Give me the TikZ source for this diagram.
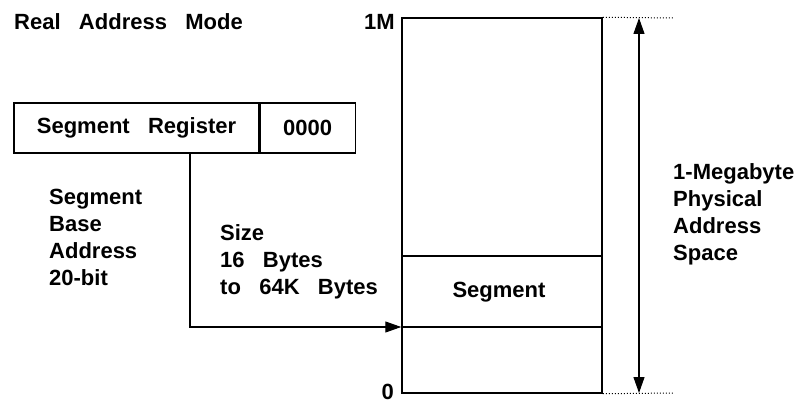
\documentclass[tikz,border=0pt]{standalone}
\usepackage{fontspec}
\setmainfont{Liberation Sans}[WordSpace=3]
\usetikzlibrary{positioning,arrows.meta,calc}
\tikzset{
  lbl/.style={font=\fontsize{22}{27}\selectfont\bfseries,inner sep=0pt,align=left},
  reg/.style={draw,line width=1.2pt,minimum height=50pt,inner sep=0pt,
    font=\fontsize{22}{26}\selectfont\bfseries},
  mem/.style={draw,line width=1.5pt,minimum width=200pt,minimum height=375pt,inner sep=0pt},
  thin/.style={line width=1.1pt},
  fl/.style={-{Triangle[length=16pt,width=11pt]},line width=1.1pt},
  dim/.style={{Triangle[length=16pt,width=11pt]}-{Triangle[length=16pt,width=11pt]},line width=1.1pt},
  dot/.style={dotted,line width=1pt},
}
\begin{document}
\begin{tikzpicture}[x=1pt,y=-1pt]
\useasboundingbox (0,0) rectangle (805,403);
\node[lbl,anchor=west] (ttl) at (14,22) {Real Address Mode};
\node[reg,minimum width=245pt] (sr) at (136.5,128) {Segment Register};
\node[reg,minimum width=95pt,right=0pt of sr] (off) {0000};
\node[mem] (m) at (502,205.5) {};
\node[lbl,anchor=east] (hi) at (395,22) {1M};
\node[lbl,anchor=east] (lo) at (394,392) {0};
\node[lbl] (sg) at (499,292) {Segment};
\node[lbl,anchor=north west] (base) at (49,189) {Segment\\Base\\Address\\20-bit};
\node[lbl,anchor=north west] (sz) at (220,224) {Size\\16 Bytes\\to 64K Bytes};
\node[lbl,anchor=north west] (phys) at (673,163) {1-Megabyte\\Physical\\Address\\Space};
\coordinate (tap) at (190,153);
\coordinate (sb) at (m.west|-0,327);
\coordinate (tq) at (673,18); \coordinate (bq) at (673,393);
\coordinate (ta) at (639,18); \coordinate (ba) at (639,393);
% segment bounds
\draw[thin] (m.west|-0,256) -- (m.east|-0,256);
\draw[thin] (sb) -- (m.east|-0,327);
\draw[fl] (tap) |- (sb);
\draw[dot] (m.north east) -- (tq); \draw[dot] (m.south east) -- (bq);
\draw[dim] (ba) -- (ta);
\end{tikzpicture}
\end{document}
